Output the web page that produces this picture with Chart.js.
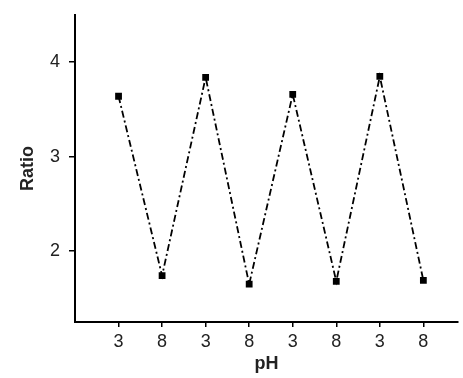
<!DOCTYPE html>
<html>
<head>
<meta charset="utf-8">
<script src="https://cdn.jsdelivr.net/npm/chart.js@4/dist/chart.umd.min.js"></script>
<style>
html,body{margin:0;padding:0;background:#fff;}
#wrap{width:463px;height:378px;}
</style>
</head>
<body>
<div id="wrap"><canvas id="c" width="463" height="378"></canvas></div>
<script>
const xPositions = [1, 2, 3, 4, 5, 6, 7, 8];
const pHLabels = ['3', '8', '3', '8', '3', '8', '3', '8'];
const ratioValues = [3.64, 1.74, 3.84, 1.65, 3.66, 1.68, 3.85, 1.69];
const yTicks = [2, 3, 4];

const font = "'Liberation Sans', Arial, sans-serif";
const data = xPositions.map((x, i) => ({x: x, y: ratioValues[i]}));

new Chart(document.getElementById('c'), {
  type: 'line',
  data: {
    datasets: [{
      data: data,
      borderColor: '#000',
      borderWidth: 1.8,
      borderDash: [7, 3, 2, 3],
      pointStyle: 'rect',
      pointRadius: 4.8,
      pointBackgroundColor: '#000',
      pointBorderColor: '#000',
      pointBorderWidth: 0,
      fill: false,
      tension: 0
    }]
  },
  options: {
    responsive: false,
    animation: false,
    layout: {padding: {top: 15, right: 0, left: 0, bottom: 0}},
    plugins: {legend: {display: false}, tooltip: {enabled: false}},
    scales: {
      x: {
        type: 'linear',
        min: 0,
        max: 8.8,
        afterBuildTicks: (s) => { s.ticks = xPositions.map(v => ({value: v})); },
        afterFit: (s) => { s.height = 56; s.paddingLeft = 0; s.paddingRight = 0; },
        border: {display: true, color: '#000', width: 2},
        grid: {display: true, drawOnChartArea: false, drawTicks: true, tickLength: 5, color: '#000', lineWidth: 1.5},
        ticks: {
          color: '#222',
          font: {family: font, size: 18},
          padding: 4,
          maxRotation: 0,
          autoSkip: false,
          callback: (v) => pHLabels[xPositions.indexOf(v)]
        },
        title: {display: true, text: 'pH', color: '#222', font: {family: font, size: 18, weight: 'bold'}, padding: {top: 0, bottom: 3}}
      },
      y: {
        min: 1.25,
        max: 4.5,
        afterBuildTicks: (s) => { s.ticks = yTicks.map(v => ({value: v})); },
        afterFit: (s) => { s.width = 75; s.paddingTop = 0; s.paddingBottom = 0; },
        border: {display: true, color: '#000', width: 2},
        grid: {display: true, drawOnChartArea: false, drawTicks: true, tickLength: 6, color: '#000', lineWidth: 1.5},
        ticks: {
          color: '#222',
          font: {family: font, size: 18},
          padding: 9,
          callback: (v) => String(v)
        },
        title: {display: true, text: 'Ratio', color: '#222', font: {family: font, size: 18, weight: 'bold'}, padding: {top: 17, bottom: 0}}
      }
    }
  }
});
</script>
</body>
</html>
